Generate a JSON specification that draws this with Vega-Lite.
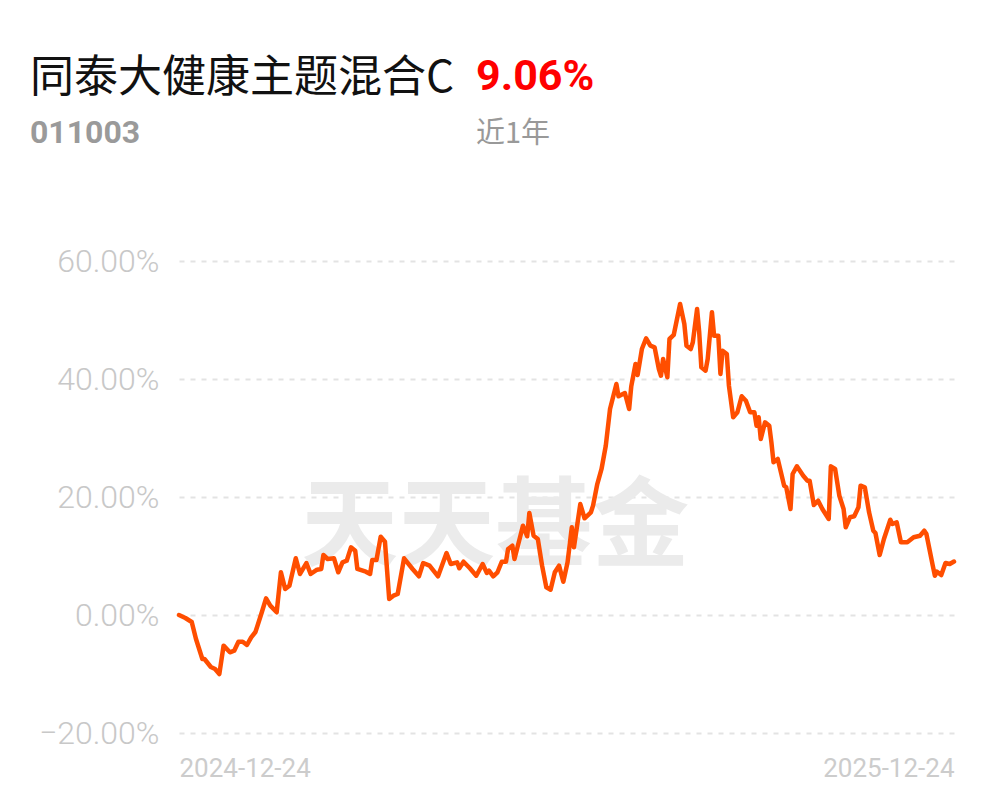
{
  "$schema": "https://vega.github.io/schema/vega-lite/v6.json",
  "background": "white",
  "padding": {"left": 30, "top": 56, "right": 20, "bottom": 10},
  "bounds": "flush",
  "spacing": 111,
  "config": {
    "view": {"stroke": null},
    "axis": {"domain": false, "ticks": false}
  },
  "vconcat": [
    {
      "data": {"values": []},
      "mark": {"type": "text"},
      "encoding": {},
      "width": 297,
      "height": 1,
      "title": {
        "text": "同泰大健康主题混合C",
        "subtitle": "011003",
        "anchor": "start",
        "frame": "group",
        "dx": -149,
        "offset": 0,
        "font": "Noto Sans CJK SC",
        "fontSize": 44,
        "fontWeight": "normal",
        "color": "#111111",
        "subtitleFont": "Roboto",
        "subtitleFontSize": 32,
        "subtitleFontWeight": "bold",
        "subtitleColor": "#9a9a9a",
        "subtitlePadding": 17
      }
    },
    {
      "title": {
        "text": "9.06%",
        "subtitle": "近1年",
        "anchor": "start",
        "frame": "group",
        "dx": 297,
        "offset": 96,
        "font": "Roboto",
        "fontSize": 43,
        "fontWeight": "bold",
        "color": "#ff0000",
        "subtitleFont": "Noto Sans CJK SC",
        "subtitleFontSize": 29,
        "subtitleColor": "#999999",
        "subtitlePadding": 21
      },
      "width": 775,
      "height": 472,
      "layer": [
        {
          "data": {"values": [{"wm": "天天基金"}]},
          "mark": {"type": "text", "font": "Noto Sans CJK SC", "fontWeight": "bold", "fontSize": 97, "color": "#ebebeb", "align": "center", "baseline": "middle"},
          "encoding": {
            "x": {"datum": {"year": 2025, "month": 5, "date": 22, "utc": true}, "type": "temporal"},
            "y": {"datum": 14.5, "type": "quantitative"},
            "text": {"field": "wm", "type": "nominal"}
          }
        },
        {
          "data": {"values": [
            {"date": "2024-12-24", "pct": 0},
            {"date": "2024-12-27", "pct": -0.51},
            {"date": "2024-12-30", "pct": -1.19},
            {"date": "2025-01-01", "pct": -4.07},
            {"date": "2025-01-04", "pct": -7.46},
            {"date": "2025-01-05", "pct": -7.46},
            {"date": "2025-01-08", "pct": -8.81},
            {"date": "2025-01-10", "pct": -9.15},
            {"date": "2025-01-12", "pct": -10.0},
            {"date": "2025-01-14", "pct": -5.2},
            {"date": "2025-01-17", "pct": -6.32},
            {"date": "2025-01-19", "pct": -6.05},
            {"date": "2025-01-21", "pct": -4.53},
            {"date": "2025-01-23", "pct": -4.53},
            {"date": "2025-01-25", "pct": -5.08},
            {"date": "2025-01-27", "pct": -3.78},
            {"date": "2025-01-29", "pct": -2.88},
            {"date": "2025-02-01", "pct": 0.46},
            {"date": "2025-02-03", "pct": 2.83},
            {"date": "2025-02-05", "pct": 1.58},
            {"date": "2025-02-08", "pct": 0.46},
            {"date": "2025-02-10", "pct": 7.24},
            {"date": "2025-02-12", "pct": 4.41},
            {"date": "2025-02-14", "pct": 4.97},
            {"date": "2025-02-17", "pct": 9.61},
            {"date": "2025-02-19", "pct": 6.95},
            {"date": "2025-02-22", "pct": 8.81},
            {"date": "2025-02-24", "pct": 6.95},
            {"date": "2025-02-27", "pct": 7.68},
            {"date": "2025-03-01", "pct": 7.8},
            {"date": "2025-03-02", "pct": 10.17},
            {"date": "2025-03-04", "pct": 9.49},
            {"date": "2025-03-07", "pct": 9.61},
            {"date": "2025-03-09", "pct": 7.24},
            {"date": "2025-03-11", "pct": 8.93},
            {"date": "2025-03-13", "pct": 9.2},
            {"date": "2025-03-15", "pct": 11.47},
            {"date": "2025-03-17", "pct": 10.9},
            {"date": "2025-03-18", "pct": 7.8},
            {"date": "2025-03-22", "pct": 7.34},
            {"date": "2025-03-24", "pct": 6.95},
            {"date": "2025-03-25", "pct": 9.32},
            {"date": "2025-03-27", "pct": 9.32},
            {"date": "2025-03-29", "pct": 13.27},
            {"date": "2025-03-31", "pct": 12.42},
            {"date": "2025-04-02", "pct": 2.71},
            {"date": "2025-04-04", "pct": 3.27},
            {"date": "2025-04-06", "pct": 3.56},
            {"date": "2025-04-09", "pct": 9.61},
            {"date": "2025-04-13", "pct": 7.8},
            {"date": "2025-04-16", "pct": 6.56},
            {"date": "2025-04-18", "pct": 8.81},
            {"date": "2025-04-21", "pct": 8.36},
            {"date": "2025-04-25", "pct": 6.56},
            {"date": "2025-04-29", "pct": 10.51},
            {"date": "2025-05-01", "pct": 8.64},
            {"date": "2025-05-04", "pct": 8.93},
            {"date": "2025-05-05", "pct": 7.92},
            {"date": "2025-05-07", "pct": 9.03},
            {"date": "2025-05-10", "pct": 7.92},
            {"date": "2025-05-13", "pct": 6.66},
            {"date": "2025-05-16", "pct": 8.64},
            {"date": "2025-05-18", "pct": 7.12},
            {"date": "2025-05-19", "pct": 7.51},
            {"date": "2025-05-21", "pct": 6.56},
            {"date": "2025-05-23", "pct": 7.24},
            {"date": "2025-05-25", "pct": 9.03},
            {"date": "2025-05-27", "pct": 9.03},
            {"date": "2025-05-28", "pct": 11.19},
            {"date": "2025-05-30", "pct": 11.75},
            {"date": "2025-05-31", "pct": 9.49},
            {"date": "2025-06-03", "pct": 13.73},
            {"date": "2025-06-04", "pct": 15.14},
            {"date": "2025-06-06", "pct": 13.34},
            {"date": "2025-06-07", "pct": 17.29},
            {"date": "2025-06-09", "pct": 13.44},
            {"date": "2025-06-11", "pct": 12.88},
            {"date": "2025-06-13", "pct": 8.36},
            {"date": "2025-06-15", "pct": 4.69},
            {"date": "2025-06-17", "pct": 4.29},
            {"date": "2025-06-19", "pct": 7.24},
            {"date": "2025-06-21", "pct": 8.36},
            {"date": "2025-06-23", "pct": 5.64},
            {"date": "2025-06-25", "pct": 8.93},
            {"date": "2025-06-27", "pct": 14.86},
            {"date": "2025-06-28", "pct": 11.47},
            {"date": "2025-07-01", "pct": 18.81},
            {"date": "2025-07-03", "pct": 16.39},
            {"date": "2025-07-06", "pct": 17.41},
            {"date": "2025-07-07", "pct": 18.53},
            {"date": "2025-07-09", "pct": 22.2},
            {"date": "2025-07-11", "pct": 24.75},
            {"date": "2025-07-13", "pct": 28.69},
            {"date": "2025-07-15", "pct": 34.92},
            {"date": "2025-07-18", "pct": 39.15},
            {"date": "2025-07-19", "pct": 37.07},
            {"date": "2025-07-22", "pct": 37.63},
            {"date": "2025-07-24", "pct": 34.92},
            {"date": "2025-07-25", "pct": 38.76},
            {"date": "2025-07-27", "pct": 42.54},
            {"date": "2025-07-28", "pct": 40.68},
            {"date": "2025-07-30", "pct": 45.08},
            {"date": "2025-08-01", "pct": 46.9},
            {"date": "2025-08-03", "pct": 45.64},
            {"date": "2025-08-05", "pct": 45.37},
            {"date": "2025-08-07", "pct": 41.69},
            {"date": "2025-08-08", "pct": 40.56},
            {"date": "2025-08-09", "pct": 43.39},
            {"date": "2025-08-11", "pct": 40.29},
            {"date": "2025-08-12", "pct": 46.78},
            {"date": "2025-08-14", "pct": 47.46},
            {"date": "2025-08-17", "pct": 52.71},
            {"date": "2025-08-19", "pct": 49.32},
            {"date": "2025-08-20", "pct": 45.64},
            {"date": "2025-08-22", "pct": 45.08},
            {"date": "2025-08-23", "pct": 46.22},
            {"date": "2025-08-25", "pct": 51.86},
            {"date": "2025-08-26", "pct": 47.92},
            {"date": "2025-08-27", "pct": 41.98},
            {"date": "2025-08-29", "pct": 41.41},
            {"date": "2025-08-30", "pct": 43.39},
            {"date": "2025-09-01", "pct": 51.31},
            {"date": "2025-09-02", "pct": 47.34},
            {"date": "2025-09-04", "pct": 47.34},
            {"date": "2025-09-05", "pct": 40.85},
            {"date": "2025-09-06", "pct": 44.8},
            {"date": "2025-09-08", "pct": 44.24},
            {"date": "2025-09-09", "pct": 38.86},
            {"date": "2025-09-11", "pct": 33.51},
            {"date": "2025-09-13", "pct": 34.36},
            {"date": "2025-09-15", "pct": 37.07},
            {"date": "2025-09-17", "pct": 36.32},
            {"date": "2025-09-19", "pct": 34.36},
            {"date": "2025-09-21", "pct": 34.36},
            {"date": "2025-09-22", "pct": 32.08},
            {"date": "2025-09-23", "pct": 33.51},
            {"date": "2025-09-24", "pct": 29.83},
            {"date": "2025-09-26", "pct": 32.66},
            {"date": "2025-09-28", "pct": 32.08},
            {"date": "2025-09-29", "pct": 29.27},
            {"date": "2025-09-30", "pct": 25.88},
            {"date": "2025-10-02", "pct": 26.44},
            {"date": "2025-10-05", "pct": 21.92},
            {"date": "2025-10-06", "pct": 21.64},
            {"date": "2025-10-08", "pct": 17.97},
            {"date": "2025-10-09", "pct": 23.9},
            {"date": "2025-10-11", "pct": 25.2},
            {"date": "2025-10-14", "pct": 23.61},
            {"date": "2025-10-16", "pct": 22.76},
            {"date": "2025-10-17", "pct": 22.76},
            {"date": "2025-10-19", "pct": 18.64},
            {"date": "2025-10-21", "pct": 19.37},
            {"date": "2025-10-23", "pct": 17.97},
            {"date": "2025-10-26", "pct": 16.27},
            {"date": "2025-10-27", "pct": 25.2},
            {"date": "2025-10-29", "pct": 24.75},
            {"date": "2025-10-31", "pct": 20.22},
            {"date": "2025-11-02", "pct": 17.97},
            {"date": "2025-11-03", "pct": 14.86},
            {"date": "2025-11-05", "pct": 16.56},
            {"date": "2025-11-07", "pct": 16.73},
            {"date": "2025-11-09", "pct": 18.25},
            {"date": "2025-11-10", "pct": 21.92},
            {"date": "2025-11-12", "pct": 21.64},
            {"date": "2025-11-14", "pct": 17.41},
            {"date": "2025-11-16", "pct": 14.29},
            {"date": "2025-11-17", "pct": 13.9},
            {"date": "2025-11-19", "pct": 10.17},
            {"date": "2025-11-21", "pct": 12.88},
            {"date": "2025-11-24", "pct": 16.15},
            {"date": "2025-11-25", "pct": 15.42},
            {"date": "2025-11-27", "pct": 15.71},
            {"date": "2025-11-29", "pct": 12.32},
            {"date": "2025-12-02", "pct": 12.32},
            {"date": "2025-12-05", "pct": 13.17},
            {"date": "2025-12-08", "pct": 13.44},
            {"date": "2025-12-10", "pct": 14.29},
            {"date": "2025-12-11", "pct": 13.73},
            {"date": "2025-12-14", "pct": 8.36},
            {"date": "2025-12-15", "pct": 6.66},
            {"date": "2025-12-16", "pct": 7.34},
            {"date": "2025-12-18", "pct": 6.78},
            {"date": "2025-12-20", "pct": 8.81},
            {"date": "2025-12-22", "pct": 8.64},
            {"date": "2025-12-24", "pct": 9.06}
          ]},
          "mark": {"type": "line", "color": "#ff4e00", "strokeWidth": 4.5, "strokeJoin": "round", "strokeCap": "round", "clip": false},
          "encoding": {
            "x": {
              "field": "date",
              "type": "temporal",
              "scale": {"type": "utc", "domain": [{"year": 2024, "month": 12, "date": 24, "utc": true}, {"year": 2025, "month": 12, "date": 24, "utc": true}]},
              "axis": {
                "title": null,
                "values": [{"year": 2024, "month": 12, "date": 24, "utc": true}, {"year": 2025, "month": 12, "date": 24, "utc": true}],
                "format": "%Y-%m-%d",
                "labelFlush": true,
                "grid": false,
                "labelFont": "Roboto",
                "labelFontSize": 26,
                "labelColor": "#cccccc",
                "labelPadding": 22
              }
            },
            "y": {
              "field": "pct",
              "type": "quantitative",
              "scale": {"domain": [-20, 60], "nice": false, "zero": false},
              "axis": {
                "title": null,
                "values": [-20, 0, 20, 40, 60],
                "labelExpr": "format(datum.value, '.2f') + '%'",
                "labelFont": "Roboto",
                "labelFontWeight": 300,
                "labelFontSize": 32,
                "labelColor": "#c8c8c8",
                "labelPadding": 20,
                "grid": true,
                "gridColor": "#e3e3e3",
                "gridWidth": 2,
                "gridDash": [5, 6]
              }
            }
          }
        }
      ]
    }
  ]
}
